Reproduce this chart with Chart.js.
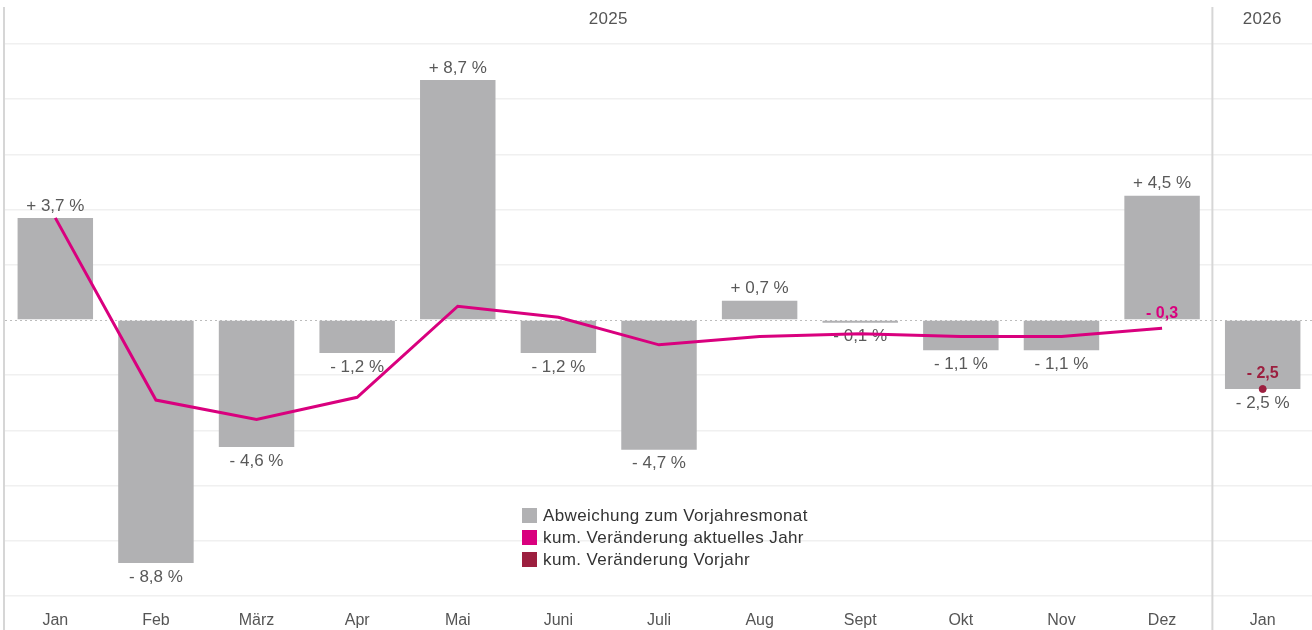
<!DOCTYPE html>
<html>
<head>
<meta charset="utf-8">
<script src="https://cdn.jsdelivr.net/npm/chart.js@4.4.1/dist/chart.umd.min.js"></script>
<style>
  html, body { margin: 0; padding: 0; background: #fff; overflow: hidden; }
  #wrap { width: 1318px; height: 630px; position: relative; }
  canvas { display: block; }
</style>
</head>
<body>
<div id="wrap"><canvas id="chart"></canvas></div>
<script>
// Daten
const monate = ["Jan", "Feb", "März", "Apr", "Mai", "Juni", "Juli", "Aug", "Sept", "Okt", "Nov", "Dez", "Jan"];
const jahre = ["2025", "2026"];
const abweichung = [3.7, -8.8, -4.6, -1.2, 8.7, -1.2, -4.7, 0.7, -0.1, -1.1, -1.1, 4.5, -2.5];
const kumAktuell = [3.7, -2.9, -3.6, -2.8, 0.5, 0.1, -0.9, -0.6, -0.5, -0.6, -0.6, -0.3, null];
const kumVorjahr = [null, null, null, null, null, null, null, null, null, null, null, null, -2.5];

const FONT = "'Liberation Sans', Arial, sans-serif";
const GRAU = "#b1b1b3";
const PINK = "#d9007e";
const DUNKELROT = "#9c1f3f";

function fmt(v, mitProzent) {
    let s = (v >= 0 ? "+ " : "- ") + Math.abs(v).toFixed(1).replace(".", ",");
    return mitProzent ? s + " %" : s;
}

// Zusatzelemente: Linien, Jahre, Werte, Legende
const extras = {
    id: "extras",
    beforeDatasetsDraw(chart) {
        const ctx = chart.ctx;
        const x = chart.scales.x, y = chart.scales.y;
        ctx.save();
        // Nulllinie gepunktet
        ctx.strokeStyle = "#bdbdbd";
        ctx.lineWidth = 1;
        ctx.setLineDash([2, 3]);
        ctx.beginPath();
        ctx.moveTo(chart.chartArea.left, Math.round(y.getPixelForValue(0)) + 0.5);
        ctx.lineTo(chart.chartArea.right, Math.round(y.getPixelForValue(0)) + 0.5);
        ctx.stroke();
        ctx.setLineDash([]);
        // linke Achse und Jahrestrenner
        ctx.strokeStyle = "#d6d6d6";
        ctx.lineWidth = 2;
        let trenner = (x.getPixelForValue(11) + x.getPixelForValue(12)) / 2;
        [4, trenner].forEach(px => {
            ctx.beginPath();
            ctx.moveTo(px, 7);
            ctx.lineTo(px, 630);
            ctx.stroke();
        });
        // Jahreszahlen
        ctx.fillStyle = "#555";
        ctx.font = "17px " + FONT;
        ctx.letterSpacing = "0.3px";
        ctx.textAlign = "center";
        ctx.textBaseline = "middle";
        ctx.fillText(jahre[0], (4 + trenner) / 2, 19);
        ctx.fillText(jahre[1], (trenner + 1312) / 2, 19);
        ctx.restore();
    },
    afterDatasetDraw(chart, args) {
        const ctx = chart.ctx;
        ctx.save();
        ctx.textAlign = "center";
        ctx.textBaseline = "middle";
        if (args.index === 0) {
            ctx.font = "17px " + FONT;
            ctx.fillStyle = "#595959";
            args.meta.data.forEach((bar, i) => {
                let v = abweichung[i];
                let py = v >= 0 ? bar.y - 12 : bar.y + 14;
                ctx.fillText(fmt(v, true), bar.x, py);
            });
        } else if (args.index === 1) {
            ctx.font = "bold 16px " + FONT;
            ctx.fillStyle = PINK;
            let p = args.meta.data[11];
            ctx.fillText(fmt(kumAktuell[11], false), p.x, p.y - 15);
        } else if (args.index === 2) {
            ctx.font = "bold 16px " + FONT;
            ctx.fillStyle = DUNKELROT;
            let p = args.meta.data[12];
            ctx.fillText(fmt(kumVorjahr[12], false), p.x, p.y - 15);
        }
        ctx.restore();
    },
    afterDraw(chart) {
        const ctx = chart.ctx;
        const eintraege = [
            ["Abweichung zum Vorjahresmonat", GRAU],
            ["kum. Veränderung aktuelles Jahr", PINK],
            ["kum. Veränderung Vorjahr", DUNKELROT]
        ];
        ctx.save();
        ctx.font = "17px " + FONT;
        ctx.letterSpacing = "0.4px";
        ctx.textBaseline = "middle";
        ctx.textAlign = "left";
        eintraege.forEach((e, i) => {
            let cy = 516 + i * 22;
            ctx.fillStyle = e[1];
            ctx.fillRect(522, cy - 8, 15, 15);
            ctx.fillStyle = "#333";
            ctx.fillText(e[0], 543, cy);
        });
        ctx.restore();
    }
};

new Chart(document.getElementById("chart"), {
    data: {
        labels: monate,
        datasets: [
            {
                type: "bar",
                data: abweichung,
                backgroundColor: GRAU,
                barPercentage: 0.75,
                categoryPercentage: 1,
                order: 3
            },
            {
                type: "line",
                data: kumAktuell,
                borderColor: PINK,
                borderWidth: 3,
                pointRadius: 0,
                tension: 0,
                spanGaps: false,
                order: 2
            },
            {
                type: "line",
                data: kumVorjahr,
                borderColor: DUNKELROT,
                backgroundColor: DUNKELROT,
                pointRadius: 3.5,
                showLine: false,
                order: 1
            }
        ]
    },
    options: {
        responsive: true,
        maintainAspectRatio: false,
        animation: false,
        layout: { padding: { left: 3, top: 44, right: 0, bottom: 0 } },
        plugins: {
            legend: { display: false },
            tooltip: { enabled: false }
        },
        scales: {
            x: {
                grid: { display: false, drawTicks: false },
                border: { display: false },
                ticks: {
                    color: "#555",
                    font: { family: FONT, size: 16 },
                    padding: 15,
                    maxRotation: 0
                },
                afterFit(scale) { scale.height = 34; }
            },
            y: {
                min: -10,
                max: 10,
                display: true,
                grid: {
                    color: c => c.tick.value === 0 ? "rgba(0,0,0,0)" : "#f0f0f0",
                    lineWidth: 1.5,
                    drawTicks: false
                },
                border: { display: false },
                ticks: { display: false, stepSize: 2 },
                afterFit(scale) { scale.width = 0; }
            }
        }
    },
    plugins: [extras]
});
</script>
</body>
</html>
